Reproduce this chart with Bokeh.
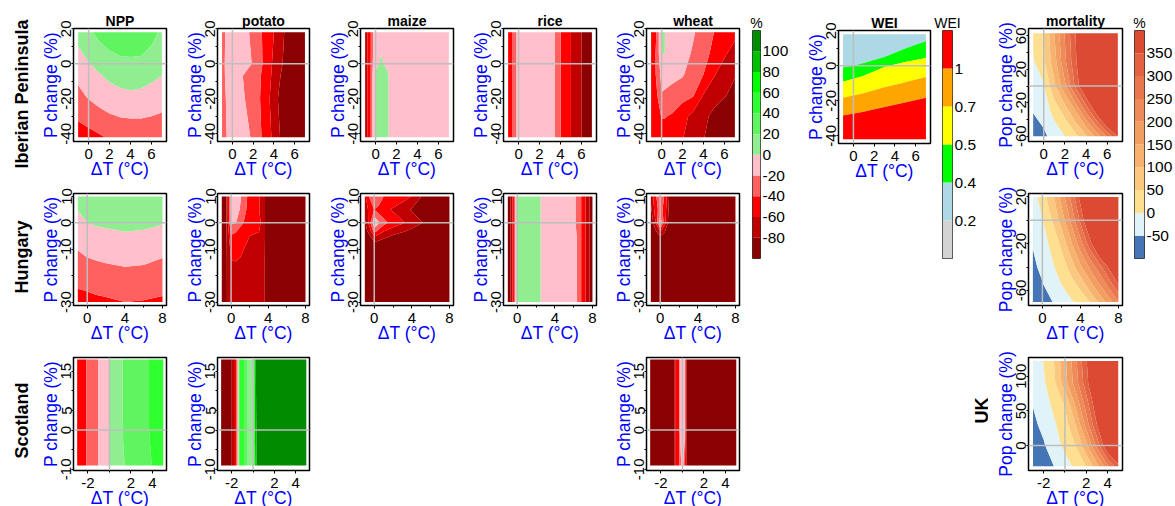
from bokeh.core.properties import value
from bokeh.embed import file_html
from bokeh.layouts import column, row
from bokeh.models import FixedTicker, Range1d, Spacer, Span, Title
from bokeh.plotting import figure
from bokeh.resources import INLINE
import numpy as np

FONT = "Liberation Sans"

# change in % (NPP and crop yields)
pct_levels = [-1000, -80, -60, -40, -20, 0, 20, 40, 60, 80, 100, 1000]
pct_colors = ["#8B0000", "#C00000", "#FF0000", "#FF6060", "#FFC0CB", "#90EE90",
              "#60F560", "#30FF30", "#00FF00", "#00C000", "#008B00"]
pct_bar_levels = [-100, -80, -60, -40, -20, 0, 20, 40, 60, 80, 100, 120]
pct_bar_ticks = [-80, -60, -40, -20, 0, 20, 40, 60, 80, 100]

# water exploitation index
wei_levels = [0, 0.2, 0.4, 0.5, 0.7, 1, 10]
wei_colors = ["#D3D3D3", "#ADD8E6", "#00FF00", "#FFFF00", "#FFA500", "#FF0000"]
wei_bar_labels = ["0.2", "0.4", "0.5", "0.7", "1"]

# mortality
mort_levels = [-1000, -50, 0, 50, 100, 150, 200, 250, 300, 350, 5000]
mort_colors = ["#4575B4", "#E0F3F8", "#FEE090", "#FAC87E", "#F6B26E", "#F39E61",
               "#EE8B58", "#E9764D", "#E36242", "#DD4A34"]
mort_bar_levels = [-100, -50, 0, 50, 100, 150, 200, 250, 300, 350, 400]
mort_bar_ticks = [-50, 0, 50, 100, 150, 200, 250, 300, 350]

# Iberian Peninsula
t_ib = [-1, 0, 1, 2, 3, 4, 5, 6, 7]

npp_ib_p = [18, 6, -6, -18, -30, -42]
npp_ib = [
    [7.7, 16.2, 25.5, 31.5, 34.9, 35.6, 34.9, 27, 16],
    [-3.9, 4.8, 12.2, 18.2, 21.6, 22.2, 21.6, 15.5, 8.3],
    [-14.4, -6.4, -1, 5, 8.6, 9.7, 8.9, 4.8, 0.7],
    [-25.5, -17.3, -12.4, -8.3, -4.8, -3.1, -4.2, -7.1, -10.8],
    [-37.3, -31.5, -25.7, -21.8, -19.4, -18.7, -18.8, -20, -22.1],
    [-49, -47, -43, -37.4, -31.8, -31, -31, -32, -33],
]

potato_ib_p = [18, 0, -7, -20, -42]
potato_ib = [
    [-26, -6, -6, -29, -42, -60, -80, -100, -110],
    [-25, -6, -8, -22, -42, -64, -83, -100, -110],
    [-25, -7, -20, -31, -43, -66, -88, -105, -115],
    [-27, -8, -17, -32, -44, -71, -94, -110, -120],
    [-28, -10, -12, -23, -44, -65, -90, -105, -115],
]

maize_ib_t = [-1, -0.5, -0.2, 0, 0.5, 1, 1.5, 3, 7]
maize_ib_p = [18, 6, 0, -6, -42]
maize_ib = [
    [-75, -44, -18, -12, -8, -8, -8, -8, -8],
    [-75, -44, -16, -10, -0.3, -6, -8, -8, -8],
    [-75, -44, -14, -6, 2, -2, -5, -8, -8],
    [-75, -44, -8, 4, 6, 3, -4, -8, -8],
    [-75, -44, -8, 4, 6, 3, -4, -8, -8],
]

rice_ib_t = [-1, -0.5, -0.2, 0, 3, 3.5, 4, 5, 6, 7]
rice_ib_p = [18, -42]
rice_ib = [
    [-46, -39, -20, -5, -5, -21, -39.5, -60, -80, -100],
    [-46, -39, -20, -5, -5, -21, -39.5, -60, -80, -100],
]

wheat_ib_t = [-1, -0.5, 0, 0.3, 1, 2, 3, 4, 5, 6, 7]
wheat_ib_p = [18, 6, -6, -18, -30, -42]
wheat_ib = [
    [-50, -40, 2, 0.1, -5, -12, -18, -28, -40, -47, -55],
    [-52, -38, 0.5, 0.1, -6, -13, -22, -33, -45, -57, -68],
    [-54, -38, -14, -12, -14, -18, -30, -40, -58, -70, -78],
    [-58, -44, -21, -23, -27, -33, -38, -61, -72, -78, -88],
    [-58, -50, -39, -39, -42, -53, -66, -75, -85, -95, -105],
    [-52, -50, -48, -48, -50, -59, -70, -79, -90, -100, -110],
]

wei_ib_t = [-1, 1, 3, 5, 7]
wei_ib_p = [18, 5, 0, -10, -20, -30, -42]
wei_ib = [
    [0.3, 0.3, 0.3, 0.3, 0.36],
    [0.36, 0.38, 0.4, 0.46, 0.49],
    [0.39, 0.41, 0.49, 0.53, 0.58],
    [0.51, 0.567, 0.646, 0.71, 0.77],
    [0.74, 0.8, 0.89, 0.97, 1.05],
    [1.05, 1.12, 1.2, 1.3, 1.4],
    [1.5, 1.6, 1.7, 1.8, 1.9],
]

mort_ib_p = [63, 30, 0, -30, -60]
mort_ib = [
    [10, 50, 150, 255, 350, 470, 600, 740, 880],
    [-5, 42, 130, 240, 340, 460, 590, 730, 870],
    [-30, -5, 90, 190, 310, 430, 560, 700, 840],
    [-48, -28, 18, 70, 150, 260, 380, 520, 660],
    [-70, -60, -30, 0, 35, 90, 170, 260, 350],
]

# Hungary
npp_hu_t = [-1, 0, 1, 2, 4, 6, 8]
npp_hu_p = [10, 0, -10, -20, -30]
npp_hu = [
    [8, 14, 15, 16, 17, 16, 14],
    [-7, 0, 2, 3, 5, 4, 1],
    [-19.4, -15, -13, -12, -10, -11, -15],
    [-32, -31, -29, -27, -25, -26, -30],
    [-48, -46, -44, -43, -40, -41, -43],
]

potato_hu_t = [-1, -0.5, 0, 0.5, 1, 2, 3, 3.6, 4, 8]
potato_hu_p = [10, 5, 0, -5, -15, -30]
potato_hu = [
    [-90, -80, -12, -8, -18, -48, -58, -78, -95, -120],
    [-90, -80, -14, -10, -22, -50, -59, -78, -95, -120],
    [-90, -80, -18, -19, -35, -50, -53, -78, -95, -120],
    [-92, -82, -42, -48, -52, -60, -63, -78, -95, -120],
    [-95, -82, -62, -60.5, -62, -70, -72, -79, -95, -120],
    [-95, -81, -72, -72, -72, -74, -75, -79, -95, -120],
]

maize_hu_t = [-1, -0.5, 0, 0.5, 1, 2, 3, 4, 5, 6, 8]
maize_hu_p = [10, 5, 0, -3, -6, -10, -30]
maize_hu = [
    [-65, -38, -22, -19, -40, -48, -52, -61, -80, -95, -120],
    [-70, -55, -40, -50, -56, -62, -70, -82, -100, -110, -120],
    [-85, -50, -2, -18, -32, -50, -58, -68, -78, -92, -120],
    [-90, -70, -30, -45, -58, -68, -75, -85, -100, -110, -120],
    [-100, -90, -72, -76, -80, -90, -100, -110, -115, -118, -120],
    [-110, -105, -95, -100, -105, -110, -115, -118, -120, -120, -120],
    [-120, -120, -115, -115, -118, -120, -120, -120, -120, -120, -120],
]

rice_hu_t = [-1, -0.7, -0.5, -0.35, -0.1, 1, 2.47, 4, 6.2, 6.8, 7.25, 7.7, 8]
rice_hu_p = [10, 0, -5, -30]
rice_hu = [
    [-90, -80, -60, -40, 2, 10, 0, -10, -20, -40, -60, -80, -95],
    [-90, -80, -60, -40, 2, 10, 0, -10, -20, -40, -60, -80, -95],
    [-90, -80, -60, -40, 2, 10, 0, -10, -15, -40, -60, -80, -95],
    [-90, -80, -60, -40, 2, 10, 0, -10, -15, -40, -60, -80, -95],
]

wheat_hu_t = [-1, -0.5, 0, 0.5, 1, 2, 8]
wheat_hu_p = [10, 5, 0, -4, -6, -30]
wheat_hu = [
    [-75, -45, -18, -45, -85, -120, -120],
    [-85, -50, -30, -50, -90, -120, -120],
    [-100, -60, -5, -55, -95, -120, -120],
    [-110, -90, -70, -85, -105, -120, -120],
    [-120, -110, -90, -100, -110, -120, -120],
    [-120, -120, -120, -120, -120, -120, -120],
]

mort_hu_t = [-1, 0, 1, 2, 3, 4, 5, 6, 7, 8]
mort_hu_p = [20, 0, -20, -40, -55, -70]
mort_hu = [
    [-25, 30, 80, 170, 260, 370, 500, 630, 760, 900],
    [-35, -3, 50, 120, 210, 310, 430, 560, 690, 820],
    [-47, -20, 12, 60, 140, 230, 330, 450, 570, 700],
    [-60, -38, -8, 22, 70, 140, 210, 280, 360, 480],
    [-75, -53, -25, 0, 30, 65, 130, 200, 270, 350],
    [-90, -70, -52, -30, -8, 18, 50, 110, 175, 245],
]

# Scotland
npp_sc_t = [-3, -2.15, -1.06, 0, 1.3, 3.8, 5]
npp_sc_p = [18, 0, -9]
npp_sc = [
    [-50, -40, -20, 0, 21, 41, 52],
    [-50, -40, -20, 0, 21, 41, 50],
    [-50, -40, -20, 0, 19, 39, 48],
]

potato_sc_t = [-3, -2, -1.7, -1.6, -1.45, -1.35, -1.3, -1.1, -0.85, -0.5, -0.2, 0, 0.05, 0.1, 0.15, 0.25, 0.35, 5]
potato_sc_p = [18, 0, -9]
potato_sc = [
    [-120, -80, -60, -40, -20, 0, 41, 55, 40, 20, 10, 20, 40, 60, 80, 100, 105, 130],
    [-120, -80, -60, -40, -20, 0, 41, 55, 40, 20, 10, 18, 35, 55, 75, 95, 103, 130],
    [-120, -80, -60, -40, -20, 0, 41, 55, 40, 20, 10, 15, 30, 50, 70, 90, 100, 130],
]

wheat_sc_t = [-3, -0.72, -0.68, -0.45, -0.3, -0.25, 0, 0.22, 0.27, 0.33, 0.4, 1, 5]
wheat_sc_p = [18, 0, -9]
wheat_sc = [
    [-110, -81, -60, -45, -40, -20, -5, -15, -40, -60, -80, -100, -120],
    [-110, -81, -60, -45, -40, -20, -5, -15, -40, -60, -80, -100, -120],
    [-110, -81, -60, -45, -40, -30, -12, -38, -45, -60, -80, -100, -120],
]

# UK
t_uk = [-3, -2, -1, 0, 1, 2, 3, 4, 5]
mort_uk_p = [122, 90, 60, 30, 0, -30]
mort_uk = [
    [-25, 2, 52, 140, 240, 345, 460, 600, 740],
    [-30, -8, 42, 130, 225, 330, 440, 570, 700],
    [-48, -20, 12, 55, 160, 275, 395, 520, 650],
    [-60, -38, -6, 28, 100, 220, 350, 470, 600],
    [-75, -55, -22, 12, 50, 135, 265, 410, 540],
    [-95, -75, -49, -22, 12, 52, 130, 240, 330],
]

# axis ranges and ticks of each region
xr_ib, yr_ib = (-1.44, 7.44), (20.2, -44.4)
xt_ib, xm_ib = [0, 2, 4, 6], []
yt_ib, ym_ib = [-40, -20, 0, 20], [-30, -10, 10]
xr_hu, yr_hu = (-1.46, 8.43), (11.1, -31.3)
xt_hu, xm_hu = [0, 4, 8], [2, 6]
yt_hu, ym_hu = [-30, -10, 0, 10], [-20]
xr_sc, yr_sc = (-3.34, 5.3), (18.5, -10.3)
xt_sc, xm_sc = [-2, 2, 4], [0]
yt_sc, ym_sc = [-10, 0, 5, 15], [-5, 10]
yr_mib, yt_mib, ym_mib = (68.8, -66.4), [-60, -20, 20, 60], [-40, 0, 40]
yr_mhu, yt_mhu, ym_mhu = (22.9, -72.9), [-60, -20, 20], [-40, 0]
xr_muk, yr_muk, yt_muk = (-3.42, 5.4), (127, -36), [0, 50, 100]


def panel(t, prow, z, levels, colors, xr, yr, xt, xm, yt, ym, ylabel, left, fw, rb, fh, top, bottom, title=None):
    p = figure(frame_width=fw, frame_height=fh, output_backend="svg", toolbar_location=None,
               x_range=Range1d(*xr), y_range=Range1d(yr[1], yr[0]),
               min_border_left=left, min_border_right=rb, min_border_top=top, min_border_bottom=bottom,
               tools="")
    p.contour(np.array(t, dtype=float), np.array(prow[::-1], dtype=float), np.array(z[::-1], dtype=float),
              levels, fill_color=colors)
    p.grid.visible = False
    p.outline_line_color = "black"
    p.outline_line_width = 1.5
    p.xaxis.ticker = FixedTicker(ticks=xt, minor_ticks=xm)
    p.yaxis.ticker = FixedTicker(ticks=yt, minor_ticks=ym)
    p.xaxis.major_label_overrides = {v: str(v) for v in xt}
    p.yaxis.major_label_overrides = {v: str(v) for v in yt}
    p.yaxis.major_label_orientation = "vertical"
    p.xaxis.axis_label = "\u0394T (\u00b0C)"
    p.yaxis.axis_label = ylabel
    for ax in [p.xaxis[0], p.yaxis[0]]:
        ax.axis_line_color = None
        ax.major_tick_in = 0
        ax.major_tick_out = 3
        ax.minor_tick_in = 0
        ax.minor_tick_out = 2
        ax.major_tick_line_color = "black"
        ax.minor_tick_line_color = "black"
        ax.major_label_text_font = FONT
        ax.major_label_text_font_size = "15px"
        ax.major_label_text_color = "black"
        ax.axis_label_text_font = FONT
        ax.axis_label_text_font_size = "17.5px"
        ax.axis_label_text_font_style = "normal"
        ax.axis_label_text_color = "#0000FF"
    p.xaxis.major_label_standoff = 4
    p.xaxis.axis_label_standoff = -3
    p.yaxis.major_tick_out = 2
    p.yaxis.major_label_standoff = 0
    p.yaxis.axis_label_standoff = -2
    p.add_layout(Span(location=0, dimension="height", line_color="#BEBEBE", line_width=1.5))
    p.add_layout(Span(location=0, dimension="width", line_color="#BEBEBE", line_width=1.5))
    if title:
        p.title.text = title
        p.title.align = "center"
        p.title.text_font = FONT
        p.title.text_font_size = "14px"
        p.title.text_font_style = "bold"
        p.title.text_color = "black"
        p.title.standoff = 0
        p.title.offset = 0
    return p


def colorbar(levels, colors, ticks, labels, title, left, fw, rb):
    p = figure(frame_width=fw, frame_height=228, output_backend="svg", toolbar_location=None,
               x_range=Range1d(0, 1), y_range=Range1d(levels[0], levels[-1]), y_axis_location="right",
               min_border_left=left, min_border_right=rb, min_border_top=30, min_border_bottom=4, tools="")
    p.quad(left=0, right=1, bottom=levels[:-1], top=levels[1:], fill_color=colors, line_color=None)
    p.grid.visible = False
    p.xaxis.visible = False
    p.outline_line_color = "#333333"
    p.outline_line_width = 1
    ax = p.yaxis[0]
    ax.ticker = FixedTicker(ticks=ticks)
    ax.major_label_overrides = dict(zip(ticks, labels))
    ax.axis_line_color = None
    ax.major_tick_line_color = None
    ax.minor_tick_line_color = None
    ax.major_tick_in = 0
    ax.major_tick_out = 0
    ax.minor_tick_in = 0
    ax.minor_tick_out = 0
    ax.major_label_text_font = FONT
    ax.major_label_text_font_size = "15.5px"
    ax.major_label_text_color = "black"
    ax.major_label_standoff = 2
    p.title.text = title
    p.title.align = "center"
    p.title.text_font = FONT
    p.title.text_font_size = "14px"
    p.title.text_font_style = "normal"
    p.title.text_color = "black"
    p.title.standoff = 0
    p.title.offset = 0
    return p


def row_label(p, text, offset, standoff):
    p.add_layout(Title(text=text, align="left", offset=offset, standoff=standoff, text_font=FONT,
                       text_font_size="18px", text_font_style="bold", text_color="black"), "left")


pl = "P change (%)"
ml = "Pop change (%)"


def pct_col(left, fw, rb, a, b, c):
    rows = [panel(*a[:3], pct_levels, pct_colors, xr_ib, yr_ib, xt_ib, xm_ib, yt_ib, ym_ib, pl, left, fw, rb, 113, 28, 41, title=a[3]),
            panel(*b, pct_levels, pct_colors, xr_hu, yr_hu, xt_hu, xm_hu, yt_hu, ym_hu, pl, left, fw, rb, 112, 11, 41)]
    if c:
        rows.append(panel(*c, pct_levels, pct_colors, xr_sc, yr_sc, xt_sc, xm_sc, yt_sc, ym_sc, pl, left, fw, rb, 113, 11, 36))
    return rows


c1 = pct_col(73, 93, 4, (t_ib, npp_ib_p, npp_ib, "NPP"), (npp_hu_t, npp_hu_p, npp_hu), (npp_sc_t, npp_sc_p, npp_sc))
c2 = pct_col(47, 92, 4, (t_ib, potato_ib_p, potato_ib, "potato"), (potato_hu_t, potato_hu_p, potato_hu), (potato_sc_t, potato_sc_p, potato_sc))
c3 = pct_col(47, 93, 4, (maize_ib_t, maize_ib_p, maize_ib, "maize"), (maize_hu_t, maize_hu_p, maize_hu), None)
c4 = pct_col(46, 93, 4, (rice_ib_t, rice_ib_p, rice_ib, "rice"), (rice_hu_t, rice_hu_p, rice_hu), None)
c5 = pct_col(46, 93, 3, (wheat_ib_t, wheat_ib_p, wheat_ib, "wheat"), (wheat_hu_t, wheat_hu_p, wheat_hu), (wheat_sc_t, wheat_sc_p, wheat_sc))

row_label(c1[0], "Iberian Peninsula", -27, 12)
row_label(c1[1], "Hungary", 12, 12)
row_label(c1[2], "Scotland", 12, 12)

bar1 = colorbar(pct_bar_levels, pct_colors, pct_bar_ticks, [str(v) for v in pct_bar_ticks], "%", 10, 8, 32)

wei_panel = panel(wei_ib_t, wei_ib_p, wei_ib, wei_levels, wei_colors, xr_ib, yr_ib, xt_ib, xm_ib, yt_ib, ym_ib, pl, 46, 92, 3, 113, 28, 41, title="WEI")
bar2 = colorbar([0, 1, 2, 3, 4, 5, 6], wei_colors, [1, 2, 3, 4, 5], wei_bar_labels, "WEI", 9, 10, 36)

# the UK row label sits in its own blank figure under the WEI colour bar
uk_fig = figure(frame_width=55, frame_height=160, output_backend="svg", toolbar_location=None, tools="",
                x_range=Range1d(0, 55), y_range=Range1d(0, 160), x_axis_type=None, y_axis_type=None,
                min_border=0, outline_line_color=None)
uk_fig.text(x=[39], y=[96], text=["UK"], angle=[np.pi / 2], text_align="center", text_baseline="middle",
            text_font=value(FONT), text_font_size="18px", text_font_style="bold", text_color="black")

m1 = panel(t_ib, mort_ib_p, mort_ib, mort_levels, mort_colors, xr_ib, yr_mib, xt_ib, xm_ib, yt_mib, ym_mib, ml, 40, 94, 3, 113, 28, 41, title="mortality")
m2 = panel(mort_hu_t, mort_hu_p, mort_hu, mort_levels, mort_colors, xr_hu, yr_mhu, xt_hu, xm_hu, yt_mhu, ym_mhu, ml, 40, 94, 3, 112, 11, 41)
m3 = panel(t_uk, mort_uk_p, mort_uk, mort_levels, mort_colors, xr_muk, yr_muk, xt_sc, xm_sc, yt_muk, [], ml, 40, 94, 3, 113, 11, 36)
bar3 = colorbar(mort_bar_levels, mort_colors, mort_bar_ticks, [str(v) for v in mort_bar_ticks], "%", 9, 10, 24)

root = row(
    column(*c1, spacing=0),
    column(*c2, spacing=0),
    column(*c3, Spacer(width=1, height=160), spacing=0),
    column(*c4, Spacer(width=1, height=160), spacing=0),
    column(*c5, spacing=0),
    bar1,
    wei_panel,
    column(bar2, Spacer(width=1, height=84), uk_fig, spacing=0),
    column(m1, m2, m3, spacing=0),
    bar3,
    spacing=0,
)

open("out.html", "w").write(file_html(root, INLINE))
